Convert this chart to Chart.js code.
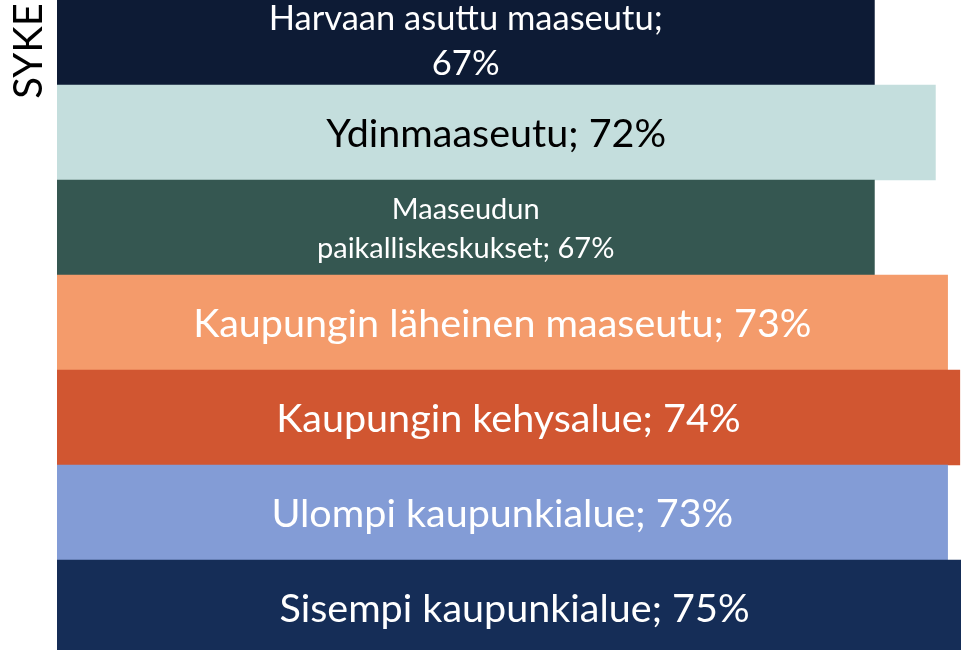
<!DOCTYPE html>
<html lang="fi">
<head>
  <meta charset="UTF-8">
  <title>SYKE</title>
  <style>
    html, body { margin: 0; padding: 0; background: #fff; overflow: hidden; }
    .chart-wrap { position: absolute; left: 0; top: -10px; width: 972px; height: 665px; }
  </style>
  <script src="https://cdn.jsdelivr.net/npm/chart.js"></script>
</head>
<body>
  <div class="chart-wrap">
    <canvas id="myChart"></canvas>
  </div>

<script>
  const categories = ['Harvaan asuttu maaseutu', 'Ydinmaaseutu', 'Maaseudun paikalliskeskukset',
    'Kaupungin läheinen maaseutu', 'Kaupungin kehysalue', 'Ulompi kaupunkialue', 'Sisempi kaupunkialue'];
  const shares = [67, 72, 67, 73, 74, 73, 75];
  const axisTitle = 'SYKE';

  const barColors = ['#0d1b35', '#c4dedd', '#355751', '#f49b6b', '#d15631', '#839cd6', '#152d57'];
  const labelColors = ['#fff', '#000', '#fff', '#fff', '#fff', '#fff', '#fff'];
  const labelSizes = [34.5, 39.5, 29, 39.5, 39.5, 39.5, 39.5];
  const labelWrap = [440, 0, 320, 0, 0, 0, 0];   // 0 = no wrapping
  const lineGap = [45, 0, 39, 0, 0, 0, 0];
  const labelShift = [2, 0, 0, 0, 0, 0, 0];
  const fontFamily = 'Lato, "Open Sans", sans-serif';

  function wrapWords(ctx, text, maxWidth) {
    if (!maxWidth) return [text];
    const words = text.split(' ');
    const lines = [];
    let line = '';
    words.forEach(w => {
      const test = line ? line + ' ' + w : w;
      if (line && ctx.measureText(test).width > maxWidth) {
        lines.push(line);
        line = w;
      } else {
        line = test;
      }
    });
    if (line) lines.push(line);
    return lines;
  }

  // labels inside the bars, like the original data labels
  const barLabels = {
    id: 'barLabels',
    afterDatasetsDraw(chart) {
      const ctx = chart.ctx;
      const meta = chart.getDatasetMeta(0);
      ctx.save();
      meta.data.forEach((bar, i) => {
        const text = categories[i] + '; ' + shares[i] + '%';
        ctx.font = labelSizes[i] + 'px ' + fontFamily;
        ctx.fillStyle = labelColors[i];
        ctx.textAlign = 'center';
        ctx.textBaseline = 'alphabetic';
        const cap = ctx.measureText('H').actualBoundingBoxAscent;
        const lines = wrapWords(ctx, text, labelWrap[i]);
        const lh = lineGap[i] || labelSizes[i] * 1.2;
        const cx = (bar.x + bar.base) / 2;
        lines.forEach((ln, k) => {
          const y = bar.y + cap / 2 + (k - (lines.length - 1) / 2) * lh + labelShift[i];
          ctx.fillText(ln, cx, y);
        });
      });
      // vertical axis caption at the top left
      ctx.translate(29, 61);
      ctx.rotate(-Math.PI / 2);
      ctx.font = '40px ' + fontFamily;
      ctx.fillStyle = '#000';
      ctx.textAlign = 'center';
      ctx.textBaseline = 'middle';
      ctx.fillText(axisTitle, 0, 0);
      ctx.restore();
    }
  };

  const ctx = document.getElementById('myChart');
  const myChart = new Chart(ctx, {
    type: 'bar',
    data: {
      labels: categories,
      datasets: [{
        data: shares,
        backgroundColor: barColors,
        borderWidth: 0,
        barPercentage: 1,
        categoryPercentage: 1
      }]
    },
    options: {
      indexAxis: 'y',
      responsive: true,
      maintainAspectRatio: false,
      animation: false,
      layout: { padding: { left: 57, right: 0, top: 0, bottom: 0 } },
      plugins: {
        legend: { display: false },
        tooltip: { enabled: false }
      },
      scales: {
        x: { display: false, min: 0, max: 75 },
        y: { display: false }
      }
    },
    plugins: [barLabels]
  });
</script>
</body>
</html>
